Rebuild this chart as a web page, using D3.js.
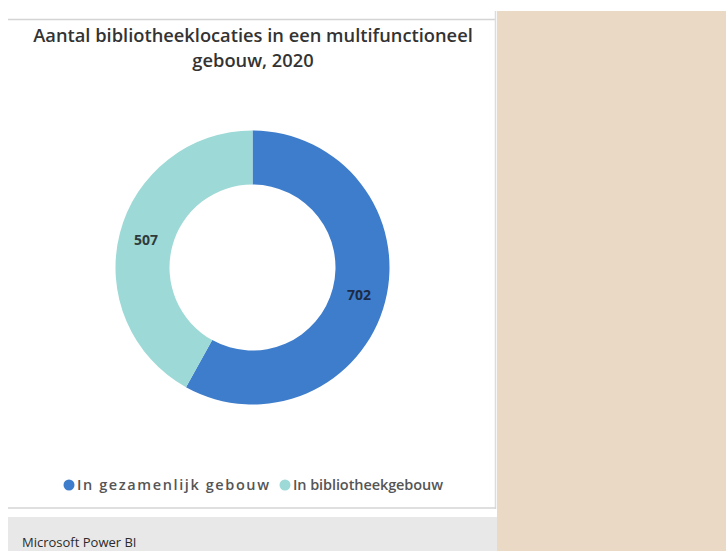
<!DOCTYPE html>
<html>
<head>
<meta charset="utf-8">
<script src="https://cdn.jsdelivr.net/npm/d3@7"></script>
<style>
  body { margin: 0; background: #ffffff; }
  svg { display: block; }
</style>
</head>
<body>
<div id="chart"></div>
<script>
// Chart data
var categories = ["In gezamenlijk gebouw", "In bibliotheekgebouw"];
var values = [702, 507];
var sliceColors = ["#3e7dcb", "#9dd9d6"];
var titleLines = ["Aantal bibliotheeklocaties in een multifunctioneel", "gebouw, 2020"];
var footerText = "Microsoft Power BI";

var width = 726, height = 551;

// scale font-size so text spans the wanted width
function fitText(sel, target) {
  var len = sel.node().getComputedTextLength();
  var fs = parseFloat(sel.attr("font-size"));
  sel.attr("font-size", (fs * target / len).toFixed(2));
}

var svg = d3.select("#chart").append("svg")
            .attr("width", width)
            .attr("height", height);

// page frame: beige side panel, card borders, footer band
svg.append("rect").attr("x", 497).attr("y", 11).attr("width", width - 497).attr("height", height - 11)
   .attr("fill", "#e9d9c5");
svg.append("line").attr("x1", 8).attr("x2", 496).attr("y1", 19.5).attr("y2", 19.5)
   .attr("stroke", "#d4d4d4").attr("stroke-width", 1.5);
svg.append("line").attr("x1", 495.5).attr("x2", 495.5).attr("y1", 11).attr("y2", 509)
   .attr("stroke", "#dcdcdc").attr("stroke-width", 1.5);
svg.append("line").attr("x1", 8).attr("x2", 496).attr("y1", 508).attr("y2", 508)
   .attr("stroke", "#d4d4d4").attr("stroke-width", 1.5);
svg.append("rect").attr("x", 8).attr("y", 517).attr("width", 489).attr("height", height - 517)
   .attr("fill", "#e8e8e8");
svg.append("text").attr("x", 22).attr("y", 547)
   .attr("font-family", "'Open Sans', sans-serif").attr("font-size", 13)
   .attr("fill", "#2b2b2b").text(footerText);

// Title
var title = svg.append("g").attr("font-family", "'Open Sans', sans-serif")
               .attr("fill", "#333333").attr("font-weight", 600).attr("text-anchor", "middle");
var t1 = title.append("text").attr("x", 253).attr("y", 42).attr("font-size", 16).text(titleLines[0]);
fitText(t1, 440);
title.append("text").attr("x", 253).attr("y", 67).attr("font-size", t1.attr("font-size")).text(titleLines[1]);

// Donut
var cx = 252.5, cy = 267.5, outerR = 137, innerR = 83;
var pie = d3.pie().sort(null).value(function(d) { return d; });
var arc = d3.arc().innerRadius(innerR).outerRadius(outerR);
var labelArc = d3.arc().innerRadius((innerR + outerR) / 2).outerRadius((innerR + outerR) / 2);
var color = d3.scaleOrdinal().domain(categories).range(sliceColors);

var arcs = pie(values);
var donut = svg.append("g").attr("transform", "translate(" + cx + "," + cy + ")");

donut.selectAll("path")
     .data(arcs)
     .enter()
     .append("path")
     .attr("d", arc)
     .attr("fill", function(d, i) { return color(categories[i]); });

donut.selectAll("text")
     .data(arcs)
     .enter()
     .append("text")
     .attr("transform", function(d) { return "translate(" + labelArc.centroid(d) + ")"; })
     .attr("text-anchor", "middle")
     .attr("dy", "0.35em")
     .attr("font-family", "'Open Sans', sans-serif")
     .attr("font-weight", 700)
     .attr("font-size", 14)
     .attr("fill", function(d, i) { return i === 0 ? "#1c2a44" : "#2f3b3b"; })
     .text(function(d) { return d.data; });

// Legend
var legendX = [69, 285];
var legendW = [192, 150];
var legend = svg.append("g").attr("font-family", "'Open Sans', sans-serif");
categories.forEach(function(c, i) {
  legend.append("circle").attr("cx", legendX[i]).attr("cy", 485).attr("r", 5.5).attr("fill", color(c));
  legend.append("text").attr("x", legendX[i] + 8).attr("y", 490)
        .attr("font-size", 14.5).attr("font-weight", 600).attr("fill", "#555555")
        .attr("textLength", legendW[i]).attr("lengthAdjust", "spacing")
        .text(c);
});
</script>
</body>
</html>
